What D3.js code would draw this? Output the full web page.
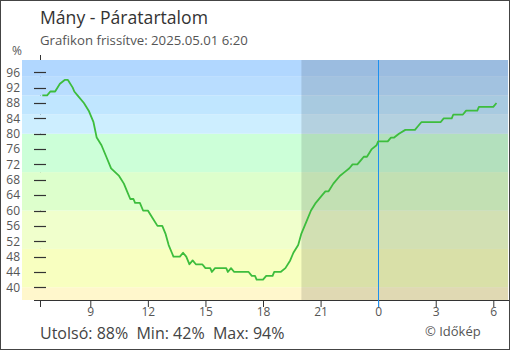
<!DOCTYPE html>
<html>
<head>
<meta charset="utf-8">
<script src="https://cdn.jsdelivr.net/npm/d3@7"></script>
<style>
  html, body { margin: 0; padding: 0; background: #fff; }
  svg { display: block; font-family: "Open Sans", "Noto Sans", sans-serif; }
</style>
</head>
<body>
<svg id="chart" width="510" height="350"></svg>
<script>
// Relative humidity readings, Mány, 10-minute station log (roughly sampled)
const times = [
  "2025-04-30 06:30", "2025-04-30 06:45", "2025-04-30 06:55", "2025-04-30 07:10",
  "2025-04-30 07:25", "2025-04-30 07:40", "2025-04-30 07:50", "2025-04-30 08:05",
  "2025-04-30 08:10", "2025-04-30 08:20", "2025-04-30 08:40", "2025-04-30 08:55",
  "2025-04-30 09:10", "2025-04-30 09:20", "2025-04-30 09:35", "2025-04-30 09:50",
  "2025-04-30 10:05", "2025-04-30 10:30", "2025-04-30 10:45", "2025-04-30 10:55",
  "2025-04-30 11:05", "2025-04-30 11:15", "2025-04-30 11:20", "2025-04-30 11:35",
  "2025-04-30 11:45", "2025-04-30 12:00", "2025-04-30 12:15", "2025-04-30 12:30",
  "2025-04-30 12:45", "2025-04-30 12:55", "2025-04-30 13:05", "2025-04-30 13:15",
  "2025-04-30 13:20", "2025-04-30 13:40", "2025-04-30 13:50", "2025-04-30 14:00",
  "2025-04-30 14:10", "2025-04-30 14:20", "2025-04-30 14:30", "2025-04-30 14:50",
  "2025-04-30 15:00", "2025-04-30 15:15", "2025-04-30 15:20", "2025-04-30 15:30",
  "2025-04-30 16:05", "2025-04-30 16:10", "2025-04-30 16:20", "2025-04-30 16:30",
  "2025-04-30 17:15", "2025-04-30 17:25", "2025-04-30 17:35", "2025-04-30 17:40",
  "2025-04-30 18:00", "2025-04-30 18:10", "2025-04-30 18:30", "2025-04-30 18:35",
  "2025-04-30 18:55", "2025-04-30 19:10", "2025-04-30 19:25", "2025-04-30 19:35",
  "2025-04-30 19:50", "2025-04-30 20:00", "2025-04-30 20:15", "2025-04-30 20:30",
  "2025-04-30 20:45", "2025-04-30 21:05", "2025-04-30 21:15", "2025-04-30 21:25",
  "2025-04-30 21:40", "2025-04-30 22:00", "2025-04-30 22:15", "2025-04-30 22:30",
  "2025-04-30 22:40", "2025-04-30 22:55", "2025-04-30 23:05", "2025-04-30 23:15",
  "2025-04-30 23:25", "2025-04-30 23:40", "2025-04-30 23:55", "2025-05-01 00:00",
  "2025-05-01 00:30", "2025-05-01 00:40", "2025-05-01 00:50", "2025-05-01 01:05",
  "2025-05-01 01:25", "2025-05-01 01:55", "2025-05-01 02:05", "2025-05-01 02:15",
  "2025-05-01 03:15", "2025-05-01 03:25", "2025-05-01 03:50", "2025-05-01 03:55",
  "2025-05-01 04:25", "2025-05-01 04:35", "2025-05-01 05:10", "2025-05-01 05:15",
  "2025-05-01 06:00", "2025-05-01 06:10"
];
const humidity = [
  90, 90, 91, 91,
  93, 94, 94, 92,
  91, 90, 88, 86,
  83, 79, 77, 74,
  71, 69, 67, 65,
  63, 63, 62, 62,
  60, 60, 58, 56,
  56, 54, 51, 49,
  48, 48, 49, 48,
  46, 47, 46, 46,
  45, 45, 44, 45,
  45, 44, 45, 44,
  44, 43, 43, 42,
  42, 43, 43, 44,
  44, 45, 47, 49,
  51, 54, 57, 60,
  62, 64, 65, 65,
  67, 69, 70, 71,
  72, 72, 73, 74,
  74, 76, 77, 78,
  78, 79, 79, 80,
  81, 81, 82, 83,
  83, 84, 84, 85,
  85, 86, 86, 87,
  87, 88
];

// Colour bands by humidity level
const bandFrom   = [0,         40,        50,        60,        70,        80,        85,        90,        95];
const bandTo     = [40,        50,        60,        70,        80,        85,        90,        95,        100];
const bandColors = ["#fff7cc", "#f8ffc0", "#f0ffcc", "#ddffcc", "#ccffd8", "#cdeeff", "#c0e6ff", "#b9ddff", "#b1d7ff"];

const yTicks = [40, 44, 48, 52, 56, 60, 64, 68, 72, 76, 80, 84, 88, 92, 96];
const xTicks = ["2025-04-30 09:00", "2025-04-30 12:00", "2025-04-30 15:00", "2025-04-30 18:00",
                "2025-04-30 21:00", "2025-05-01 00:00", "2025-05-01 03:00", "2025-05-01 06:00"];
const nightStart = "2025-04-30 20:00";
const midnight   = "2025-05-01 00:00";

const title    = "Mány - Páratartalom";
const subtitle = "Grafikon frissítve: 2025.05.01 6:20";
const unit     = "%";
const credit   = "© Időkép";

const parse = d3.timeParse("%Y-%m-%d %H:%M");
const data = times.map((t, i) => ({ t: parse(t), v: humidity[i] }));

const svg = d3.select("#chart");
const W = 510, H = 350;
const plot = { left: 22, right: 508, top: 60, bottom: 300 };

const x = d3.scaleTime()
  .domain([parse("2025-04-30 09:00"), parse("2025-05-01 06:00")])
  .range([90.3, 493.3]);
const y = d3.scaleLinear()
  .domain([36.7, 99.2])
  .range([plot.bottom, plot.top]);

const clampY = v => Math.max(plot.top, Math.min(plot.bottom, y(v)));

// vertical guide behind the bands (only its ends show)
svg.append("line")
  .attr("x1", 40.5).attr("x2", 40.5)
  .attr("y1", 55).attr("y2", 307)
  .attr("stroke", "#333").attr("stroke-width", 1);

// humidity bands
svg.append("g").selectAll("rect")
  .data(bandColors)
  .join("rect")
  .attr("x", plot.left)
  .attr("width", plot.right - plot.left)
  .attr("y", (c, i) => clampY(bandTo[i]))
  .attr("height", (c, i) => clampY(bandFrom[i]) - clampY(bandTo[i]))
  .attr("fill", c => c);

// night shading
svg.append("rect")
  .attr("x", x(parse(nightStart)))
  .attr("y", plot.top)
  .attr("width", plot.right - x(parse(nightStart)))
  .attr("height", plot.bottom - plot.top)
  .attr("fill", "#000")
  .attr("fill-opacity", 0.12);

// y axis ticks and labels
const yAxis = svg.append("g");
yAxis.selectAll("line")
  .data(yTicks)
  .join("line")
  .attr("x1", 34).attr("x2", 46)
  .attr("y1", d => Math.round(y(d)) + 0.5)
  .attr("y2", d => Math.round(y(d)) + 0.5)
  .attr("stroke", "#333").attr("stroke-width", 1.2);
yAxis.selectAll("text")
  .data(yTicks)
  .join("text")
  .attr("x", 20)
  .attr("y", d => y(d) + 4.3)
  .attr("text-anchor", "end")
  .attr("font-size", 12)
  .attr("fill", "#555")
  .text(d => d);

// x axis
const xAxis = d3.axisBottom(x)
  .tickValues(xTicks.map(parse))
  .tickFormat(d3.timeFormat("%-H"))
  .tickSize(7)
  .tickSizeOuter(0);
const gx = svg.append("g")
  .attr("transform", `translate(0,${plot.bottom})`)
  .call(xAxis);
gx.select(".domain").remove();
gx.selectAll(".tick line").attr("stroke", "#333");
gx.selectAll(".tick text")
  .attr("font-family", "Open Sans, Noto Sans, sans-serif")
  .attr("font-size", 12)
  .attr("fill", "#555")
  .attr("dy", "0.55em")
  .attr("y", 9);
svg.append("line")
  .attr("x1", 34).attr("x2", plot.right + 1)
  .attr("y1", plot.bottom + 0.5).attr("y2", plot.bottom + 0.5)
  .attr("stroke", "#333");

// midnight marker
svg.append("line")
  .attr("x1", Math.round(x(parse(midnight))) + 0.5)
  .attr("x2", Math.round(x(parse(midnight))) + 0.5)
  .attr("y1", plot.top).attr("y2", plot.bottom + 7)
  .attr("stroke", "#1e90ee").attr("stroke-width", 1);

// humidity line
svg.append("path")
  .datum(data)
  .attr("d", d3.line().x(d => x(d.t)).y(d => y(d.v)))
  .attr("fill", "none")
  .attr("stroke", "#3dbd3d")
  .attr("stroke-width", 1.8)
  .attr("stroke-linejoin", "round");

// titles
svg.append("text").attr("x", 40).attr("y", 24)
  .attr("font-size", 17.6).attr("fill", "#333").text(title);
svg.append("text").attr("x", 40).attr("y", 45)
  .attr("font-size", 13.2).attr("fill", "#555").text(subtitle);
svg.append("text").attr("x", 12).attr("y", 55)
  .attr("font-size", 12).attr("fill", "#555").text(unit);

// summary stats
const last = humidity[humidity.length - 1];
const minV = d3.min(humidity), maxV = d3.max(humidity);
svg.append("text").attr("x", 40).attr("y", 339)
  .attr("font-size", 16).attr("fill", "#444")
  .attr("xml:space", "preserve")
  .text(`Utolsó: ${last}%  Min: ${minV}%  Max: ${maxV}%`);
svg.append("text").attr("x", 425).attr("y", 336)
  .attr("font-size", 13).attr("fill", "#555").text(credit);

// frame
svg.append("rect")
  .attr("x", 0.5).attr("y", 0.5)
  .attr("width", W - 1).attr("height", H - 1)
  .attr("fill", "none").attr("stroke", "#444");
</script>
</body>
</html>
